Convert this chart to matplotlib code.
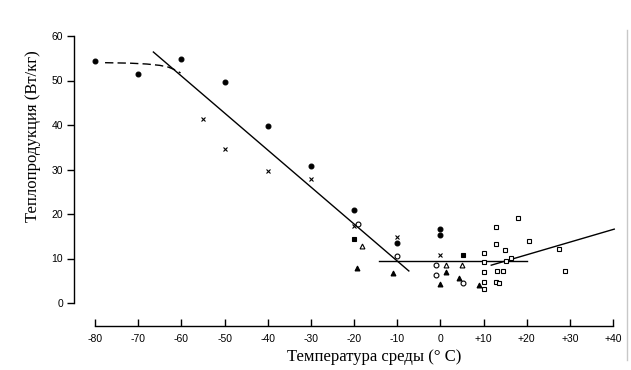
import matplotlib
matplotlib.use("Agg")
import matplotlib.pyplot as plt
from matplotlib.lines import Line2D

# --- data (temperature °C, heat production W/kg) ---
filled_circle_t = [-80, -70, -60, -50, -40, -30, -20, -10, 0, 0]
filled_circle_y = [54.4, 51.5, 54.8, 49.7, 39.8, 30.8, 20.9, 13.5, 16.6, 15.3]

cross_t = [-55, -50, -40, -30, -20, -10, 0]
cross_y = [41.3, 34.6, 29.7, 27.9, 17.3, 14.8, 10.8]

open_circle_t = [-19, -10, -1, -1, 5.3]
open_circle_y = [17.8, 10.6, 8.5, 6.3, 4.5]

filled_square_t = [-20, 5.3]
filled_square_y = [14.4, 10.8]

open_triangle_t = [-18.2, 1.3, 5.1]
open_triangle_y = [12.8, 8.5, 8.5]

filled_triangle_t = [-19.2, -11, 1.3, 0, 4.4, 9]
filled_triangle_y = [7.9, 6.7, 7.0, 4.3, 5.6, 4.0]

open_square_t = [10, 10, 10, 10, 10, 12.8, 17.9, 20.5, 13, 14.9, 16.3, 15.1,
                 13.2, 14.6, 12.8, 13.5, 27.5, 28.9]
open_square_y = [11.2, 9.2, 7.0, 4.7, 3.1, 17.1, 19.1, 13.9, 13.3, 11.9, 10.1, 9.4,
                 7.2, 7.2, 4.7, 4.5, 12.1, 7.2]

# fitted lines
line_cold_t = [-66.5, -7.3]
line_cold_y = [56.4, 7.2]
line_neutral_t = [-14.3, 20]
line_neutral_y = [9.4, 9.4]
line_warm_t = [11.8, 40.3]
line_warm_y = [8.5, 16.6]
dashed_t = [-77.7, -72, -68, -65, -63, -61.5, -60.2]
dashed_y = [54.0, 53.9, 53.7, 53.4, 53.0, 52.4, 51.7]

x_ticks = [-80, -70, -60, -50, -40, -30, -20, -10, 0, 10, 20, 30, 40]
x_ticklabels = ["-80", "-70", "-60", "-50", "-40", "-30", "-20", "-10", "0",
                "+10", "+20", "+30", "+40"]
y_ticks = [0, 10, 20, 30, 40, 50, 60]

W, H = 631, 370
fig = plt.figure(figsize=(W / 100, H / 100), dpi=100)
left, right = 74 / W, 620 / W
bottom, top = (H - 326) / H, (H - 31) / H
ax = fig.add_axes([left, bottom, right - left, top - bottom])

x0 = -80 - 21 / 4.29
x1 = 40 + 7 / 4.29
ax.set_xlim(x0, x1)
y0 = -23 / 4.45
y1 = 60 + 5 / 4.45
ax.set_ylim(y0, y1)

lw = 1.0
ax.plot(line_cold_t, line_cold_y, color="black", lw=lw)
ax.plot(line_neutral_t, line_neutral_y, color="black", lw=lw)
ax.plot(line_warm_t, line_warm_y, color="black", lw=lw)
ax.plot(dashed_t, dashed_y, color="black", lw=lw, ls=(0, (6, 3)))

ms = 3.5
kw = dict(ls="none", mew=0.8, color="black")
ax.plot(filled_circle_t, filled_circle_y, marker="o", ms=ms, mfc="black", **kw)
ax.plot(cross_t, cross_y, marker="x", ms=ms - 0.6, **kw)
ax.plot(open_circle_t, open_circle_y, marker="o", ms=ms, mfc="white", **kw)
ax.plot(filled_square_t, filled_square_y, marker="s", ms=ms - 0.4, mfc="black", **kw)
ax.plot(open_triangle_t, open_triangle_y, marker="^", ms=ms, mfc="white", **kw)
ax.plot(filled_triangle_t, filled_triangle_y, marker="^", ms=ms, mfc="black", **kw)
ax.plot(open_square_t, open_square_y, marker="s", ms=ms - 0.4, mfc="white", **kw)

for s in ["top", "right"]:
    ax.spines[s].set_visible(False)
ax.spines["left"].set_bounds(0, 60)
ax.spines["bottom"].set_bounds(-80, 40)
ax.spines["left"].set_linewidth(1.0)
ax.spines["bottom"].set_linewidth(1.0)

ax.set_xticks(x_ticks)
ax.set_xticklabels(x_ticklabels)
ax.set_yticks(y_ticks)
ax.tick_params(axis="x", direction="in", length=5, width=1, pad=6,
               labelsize=7.5)
ax.tick_params(axis="y", direction="out", length=5, width=1, pad=3,
               labelsize=7.5)
for lab in ax.get_xticklabels() + ax.get_yticklabels():
    lab.set_family("Liberation Sans")

fig.text(374 / W, 1 - 357 / H, "Температура среды (° С)", ha="center",
         va="center", family="Liberation Serif", fontsize=12)
fig.text(33 / W, 1 - 136 / H, "Теплопродукция (Вт/кг)", ha="center",
         va="center", rotation=90, family="Liberation Serif", fontsize=12)

fig.add_artist(Line2D([627 / W, 627 / W], [1 - 360 / H, 1 - 30 / H],
                      color="#c8c8c8", lw=1))

fig.savefig("out.png", dpi=100)
